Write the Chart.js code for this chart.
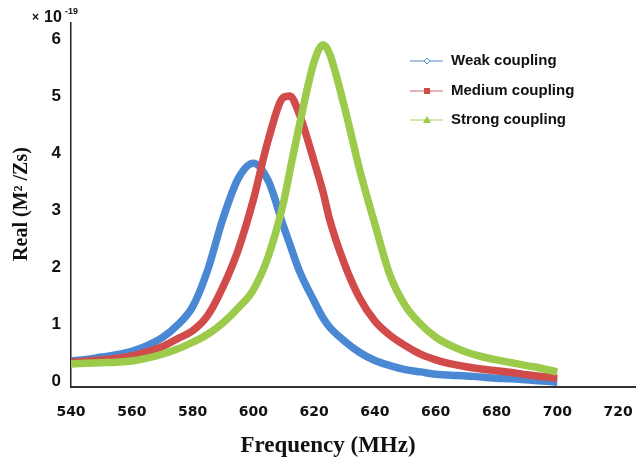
<!DOCTYPE html>
<html>
<head>
<meta charset="utf-8">
<script src="https://cdn.jsdelivr.net/npm/chart.js@4.4.0/dist/chart.umd.min.js"></script>
<style>
  html, body { margin: 0; padding: 0; background: #fff; }
  #wrap { width: 636px; height: 462px; }
</style>
</head>
<body>
<div id="wrap"><canvas id="realChart" width="636" height="462"></canvas></div>
<script>
// Frequency points (MHz) and Real part values (x 10^-19)
const freq = [540, 545, 550, 555, 560, 565, 570, 575, 580, 585, 590, 595, 600, 605, 610, 612, 615, 620, 623, 625,
              630, 635, 640, 645, 650, 655, 660, 665, 670, 675, 680, 685, 690, 695, 700];
const weak = [0.35, 0.38, 0.42, 0.46, 0.52, 0.62, 0.76, 0.98, 1.3, 1.95, 2.85, 3.55, 3.82, 3.5, 2.7, 2.4, 1.95, 1.4, 1.1, 0.95,
              0.7, 0.5, 0.36, 0.27, 0.2, 0.16, 0.12, 0.1, 0.09, 0.07, 0.05, 0.04, 0.02, 0.0, -0.02];
const medium = [0.33, 0.35, 0.37, 0.4, 0.44, 0.51, 0.6, 0.74, 0.88, 1.15, 1.65, 2.3, 3.18, 4.25, 4.98, 5.0, 4.7, 3.85, 3.3, 2.85,
                2.05, 1.45, 1.05, 0.8, 0.62, 0.47, 0.37, 0.3, 0.25, 0.21, 0.18, 0.15, 0.11, 0.08, 0.05];
const strong = [0.3, 0.31, 0.32, 0.33, 0.35, 0.4, 0.47, 0.56, 0.68, 0.82, 1.02, 1.28, 1.6, 2.2, 3.15, 3.68, 4.45, 5.6, 5.9, 5.75,
                4.8, 3.7, 2.75, 1.85, 1.32, 1.0, 0.77, 0.62, 0.51, 0.43, 0.37, 0.32, 0.27, 0.22, 0.16];

const xTicks = [540, 560, 580, 600, 620, 640, 660, 680, 700, 720];
const yTicks = [0, 1, 2, 3, 4, 5, 6];

const seriesNames = ['Weak coupling', 'Medium coupling', 'Strong coupling'];
const lineColors = ['#4a88d4', '#d24b4b', '#9ccb4c'];
const legendLineColors = ['#8fb0dc', '#e09a9a', '#c2dc94'];
const markerShapes = ['diamond', 'square', 'triangle'];

function toPoints(values) {
    return freq.map((f, i) => ({ x: f, y: values[i] }));
}

// Draws axis titles, exponent label and the legend
const decorPlugin = {
    id: 'decor',
    afterDraw(chart) {
        const ctx = chart.ctx;
        ctx.save();
        ctx.fillStyle = '#111';

        // x axis title
        ctx.font = 'bold 23px "Liberation Serif"';
        ctx.textAlign = 'center';
        ctx.textBaseline = 'middle';
        ctx.fillText('Frequency (MHz)', 328, 446);

        // y axis title
        ctx.save();
        ctx.translate(22, 204);
        ctx.rotate(-Math.PI / 2);
        ctx.font = 'bold 20px "Liberation Serif"';
        ctx.fillText('Real (M\u00B2 /Zs)', 0, 0);
        ctx.restore();

        // exponent
        ctx.textAlign = 'left';
        ctx.font = 'bold 12px "Liberation Sans"';
        ctx.fillText('\u00D7', 32, 18);
        ctx.font = 'bold 16px "Liberation Sans"';
        ctx.fillText('10', 44, 18);
        ctx.font = 'bold 9px "Liberation Sans"';
        ctx.fillText('-19', 65, 12);

        // legend
        const rows = [61, 91, 120];
        ctx.font = 'bold 15px "Liberation Sans"';
        rows.forEach((y, i) => {
            ctx.strokeStyle = legendLineColors[i];
            ctx.lineWidth = 1.5;
            ctx.beginPath();
            ctx.moveTo(410, y);
            ctx.lineTo(443, y);
            ctx.stroke();

            const mx = 427;
            ctx.fillStyle = lineColors[i];
            ctx.strokeStyle = lineColors[i];
            ctx.beginPath();
            if (markerShapes[i] === 'diamond') {
                ctx.moveTo(mx, y - 3); ctx.lineTo(mx + 3, y); ctx.lineTo(mx, y + 3); ctx.lineTo(mx - 3, y); ctx.closePath();
                ctx.fillStyle = '#fff';
                ctx.fill();
                ctx.lineWidth = 1;
                ctx.stroke();
            } else if (markerShapes[i] === 'square') {
                ctx.rect(mx - 3, y - 3, 6, 6);
                ctx.fill();
            } else {
                ctx.moveTo(mx, y - 4); ctx.lineTo(mx + 4, y + 3); ctx.lineTo(mx - 4, y + 3); ctx.closePath();
                ctx.fill();
            }

            ctx.fillStyle = '#111';
            ctx.textAlign = 'left';
            ctx.textBaseline = 'middle';
            ctx.fillText(seriesNames[i], 451, y);
        });
        ctx.restore();
    }
};

const ctx = document.getElementById('realChart').getContext('2d');

new Chart(ctx, {
    type: 'line',
    data: {
        datasets: [weak, medium, strong].map((vals, i) => ({
            label: seriesNames[i],
            data: toPoints(vals),
            borderColor: lineColors[i],
            backgroundColor: lineColors[i],
            borderWidth: 7.5,
            pointRadius: 0,
            cubicInterpolationMode: 'monotone',
            fill: false,
            order: 3 - i
        }))
    },
    options: {
        responsive: false,
        animation: false,
        layout: { padding: { top: 23, right: 0, left: 0, bottom: 0 } },
        plugins: {
            legend: { display: false },
            tooltip: { enabled: false }
        },
        scales: {
            x: {
                type: 'linear',
                min: 540,
                max: 725.9,
                grid: { display: false, drawTicks: false },
                border: { display: true, color: '#333', width: 2 },
                afterBuildTicks: (scale) => { scale.ticks = xTicks.map(v => ({ value: v })); },
                afterFit: (scale) => {
                    scale.height = 75;
                    scale.paddingLeft = 0;
                    scale.paddingRight = 0;
                },
                ticks: {
                    padding: 17,
                    color: '#111',
                    maxRotation: 0,
                    font: { family: 'DejaVu Sans', weight: 'bold', size: 14 }
                }
            },
            y: {
                min: -0.105,
                max: 6.28,
                grid: { display: false, drawTicks: false },
                border: { display: true, color: '#222', width: 1.5 },
                afterBuildTicks: (scale) => { scale.ticks = yTicks.map(v => ({ value: v })); },
                afterFit: (scale) => { scale.width = 71; },
                ticks: {
                    padding: 10,
                    color: '#111',
                    font: { family: 'Liberation Sans', weight: 'bold', size: 17 }
                }
            }
        }
    },
    plugins: [decorPlugin]
});
</script>
</body>
</html>
